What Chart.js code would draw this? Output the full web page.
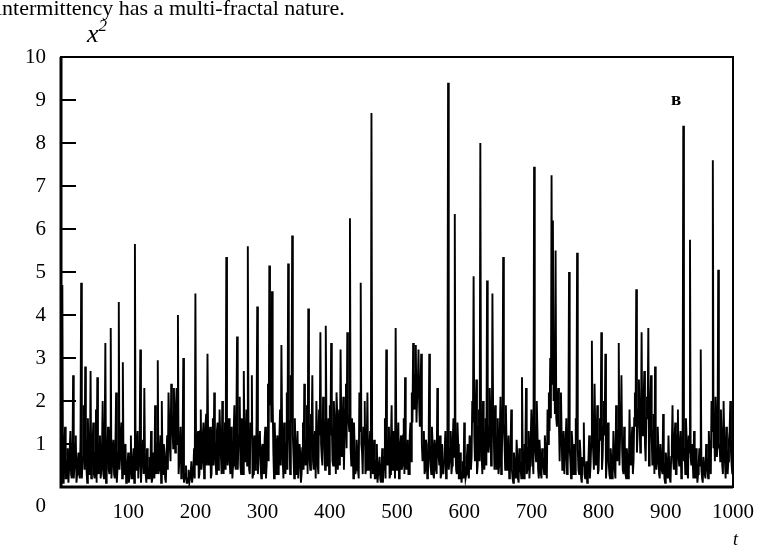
<!DOCTYPE html>
<html lang="en">
<head>
<meta charset="UTF-8">
<title>x^2 time series</title>
<script src="https://cdn.jsdelivr.net/npm/chart.js"></script>
<style>
  body { margin: 0; background: #fff; }
  #wrap { position: relative; width: 772px; height: 552px; overflow: hidden; background: #fff; }
  #caption { position: absolute; left: -4px; top: -3px; font: 22px/22px "Liberation Serif", serif; white-space: nowrap; color: #000; }
  .lbl { position: absolute; font-family: "Liberation Serif", serif; font-style: italic; color: #000; line-height: 1; }
</style>
</head>
<body>
<div id="wrap">
  <canvas id="myChart" width="772" height="552"></canvas>
  <div id="caption">intermittency has a multi-fractal nature.</div>
  <div class="lbl" style="left:87px;top:18px;font-size:26px;">x<sup style="font-size:17px;position:relative;top:-1px;">2</sup></div>
  <div class="lbl" style="left:733px;top:530px;font-size:18px;">t</div>
  <div style="position:absolute;left:671px;top:89px;font:bold 19px/19px 'Liberation Serif',serif;color:#000;">в</div>
</div>

<script>
// x^2 at even t = 0, 2, ..., 1000
const x2Even = [
  1.6,4.7,0.3,1.4,0.2,0.9,0.4,1.3,0.2,2.6,0.5,1.2,0.3,0.8,0.2,4.75,0.6,1.9,2.8,0.4,1.6,0.3,2.7,0.5,1.5,
  0.2,1.8,2.55,0.3,1.2,0.4,2.0,0.2,3.35,0.6,1.4,0.3,3.7,0.5,1.1,0.2,2.2,0.4,4.3,0.7,1.5,2.9,0.3,1.0,0.2,
  0.8,0.3,1.2,0.2,0.9,5.65,0.4,1.3,0.2,3.2,0.5,1.1,2.3,0.3,0.9,0.2,0.7,1.3,0.2,0.6,1.9,0.3,2.95,0.4,1.2,
  2.0,0.3,0.8,0.1,1.2,2.2,0.9,2.4,1.3,2.3,0.8,2.3,4.0,0.6,1.4,0.3,3.0,0.2,0.5,0.1,0.4,0.2,0.6,0.1,0.9,
  4.5,0.5,1.3,0.3,1.8,0.6,1.5,0.4,1.7,3.1,0.5,1.4,0.3,1.6,2.2,0.6,1.3,0.4,1.8,0.7,2.0,0.3,1.5,5.35,0.5,
  1.6,0.3,1.2,0.5,1.9,0.4,3.5,1.0,2.1,0.3,1.4,2.7,0.6,1.8,5.6,0.4,1.5,2.6,0.3,1.2,0.5,4.2,0.8,1.3,0.2,
  1.0,0.3,1.4,0.5,2.4,5.15,3.2,4.55,0.8,1.5,0.3,1.2,0.4,1.8,3.3,0.6,1.5,0.3,2.2,5.2,1.1,2.6,5.85,0.7,1.6,
  0.3,1.3,0.2,0.8,0.3,1.5,2.4,0.5,1.9,4.15,0.6,1.7,2.6,0.4,1.3,2.0,0.5,1.8,3.6,0.7,2.1,1.0,3.75,0.5,1.6,
  1.9,3.35,0.6,2.0,1.0,2.2,0.4,1.8,3.2,0.7,2.1,1.2,2.4,3.6,1.5,6.25,0.5,1.2,1.5,0.3,1.1,0.4,2.2,4.75,0.8,
  1.4,2.0,0.4,2.2,0.6,1.3,8.7,0.3,1.1,0.2,1.0,0.3,0.7,0.1,0.9,0.4,1.6,3.2,0.5,1.4,0.3,1.9,0.6,1.2,3.7,
  0.4,1.5,0.3,1.2,0.5,1.6,2.55,0.4,1.1,0.3,1.5,2.2,3.35,1.8,3.3,2.1,3.2,1.4,3.1,0.6,1.3,0.4,1.0,0.3,3.1,
  0.5,1.4,0.3,1.1,0.4,2.3,0.7,1.2,0.3,1.0,0.6,1.3,0.4,9.4,0.6,1.3,0.5,1.6,6.35,0.4,1.5,0.2,0.8,0.1,0.6,
  1.5,0.2,0.7,0.3,1.2,0.4,2.0,4.9,0.6,2.5,0.5,1.8,8.0,0.7,2.0,0.4,1.6,4.8,0.8,2.3,0.5,4.5,1.2,1.9,0.4,
  1.6,0.5,2.1,0.7,5.35,1.0,1.9,0.4,1.2,0.3,1.8,0.2,0.8,0.3,1.1,0.2,0.9,0.4,2.55,0.3,1.0,2.3,0.4,1.3,0.5,
  1.8,0.6,7.45,0.8,2.0,0.4,1.1,0.3,0.9,0.5,1.2,0.4,1.8,2.2,3.0,7.25,6.2,2.8,5.5,1.4,2.3,0.6,2.2,0.4,1.3,
  0.7,1.6,0.5,5.0,0.6,1.3,0.3,1.0,1.6,5.45,0.4,1.1,0.2,0.7,1.5,0.2,0.6,0.3,1.2,0.5,3.4,0.8,2.4,0.5,1.9,
  0.4,1.6,3.6,0.7,2.0,3.1,0.5,1.5,0.3,0.9,0.2,1.3,0.4,1.9,0.6,3.35,1.2,2.6,0.4,1.4,0.3,0.9,0.2,1.8,0.5,
  1.4,0.6,2.2,4.6,1.2,2.5,0.8,3.6,1.5,2.7,0.6,2.1,3.7,1.0,2.6,0.5,1.7,2.8,0.4,1.4,0.3,1.0,0.4,1.7,0.2,
  0.8,0.3,1.2,0.2,0.7,1.9,0.4,1.5,0.3,1.8,0.5,1.3,0.6,8.4,0.9,1.6,0.4,1.2,5.75,0.5,1.0,1.3,0.2,0.6,0.3,
  0.9,3.2,0.2,0.7,0.3,1.0,0.4,1.3,0.6,2.0,7.6,1.4,2.1,0.7,5.05,1.0,1.8,0.5,2.0,0.6,1.4,0.3,1.1,2.0,0.5,
  1.2
];
// x^2 at odd t = 1, 3, ..., 999
const x2Odd = [
  0.3,0.1,0.8,0.2,0.6,0.1,0.9,0.3,0.5,0.2,1.0,0.1,0.6,0.3,1.1,0.2,0.7,0.4,1.2,0.1,0.9,0.5,0.2,1.0,0.3,
  0.8,0.1,0.6,1.0,0.2,0.9,0.3,1.1,0.1,0.7,0.4,1.3,0.2,0.9,0.3,1.0,0.1,0.8,0.4,1.2,0.2,0.6,0.9,0.1,0.5,
  0.1,0.7,0.2,0.6,0.1,0.5,0.9,0.2,0.8,0.1,1.0,0.3,0.6,0.1,0.5,0.2,0.4,0.1,0.8,0.2,0.5,1.0,0.3,0.7,0.1,
  0.6,1.0,0.2,0.7,0.4,1.5,0.6,1.7,0.9,1.5,1.8,1.0,0.3,0.9,0.2,1.1,0.1,0.3,0.1,0.2,0.1,0.3,0.1,0.4,0.2,
  0.8,1.1,0.2,1.3,0.4,1.2,0.2,1.4,0.5,1.0,1.2,0.2,1.3,0.5,1.1,0.3,1.5,0.6,1.2,0.3,1.4,1.1,0.4,1.2,1.3,
  0.6,1.4,0.2,1.3,0.6,1.5,0.4,1.2,0.5,1.6,0.3,1.2,1.0,0.5,1.3,0.3,1.4,0.2,1.1,0.4,1.5,0.3,1.2,0.5,0.9,
  0.4,1.1,0.2,1.3,0.6,1.9,1.5,2.0,0.2,0.9,1.0,0.3,1.2,0.5,1.4,0.2,1.1,1.0,0.4,1.6,0.3,1.5,1.2,0.2,0.9,
  0.8,0.2,1.0,0.1,0.9,0.4,1.2,1.1,0.3,1.5,0.4,1.3,0.6,1.1,0.2,1.4,0.3,1.2,1.0,0.5,1.6,0.4,1.5,0.9,0.3,
  1.2,1.5,0.5,1.6,0.3,1.7,1.1,0.5,1.6,1.2,0.4,1.8,0.9,1.7,1.3,0.9,1.6,0.2,0.9,0.4,0.8,0.2,1.3,1.0,0.3,
  1.0,0.3,1.1,0.4,0.9,0.2,1.0,0.5,0.2,0.6,0.1,0.5,0.2,0.4,0.1,0.7,0.2,1.2,0.8,0.2,1.1,0.4,1.3,0.2,1.0,
  0.9,0.2,1.0,0.4,1.2,0.3,1.1,1.0,0.3,1.2,0.6,1.5,2.0,2.6,1.5,2.4,1.9,2.3,1.0,0.8,0.3,1.1,0.2,0.7,1.0,
  0.3,1.0,0.2,0.9,0.3,1.2,0.5,0.2,1.0,0.3,0.9,0.2,1.1,0.4,0.9,0.3,1.1,0.7,0.9,0.3,1.0,0.2,0.4,0.3,0.2,
  0.5,0.3,1.0,0.2,1.1,0.7,1.5,1.2,1.6,0.3,1.4,0.6,1.7,0.3,1.4,1.1,0.5,1.5,1.0,1.6,0.6,1.8,0.4,1.3,0.9,
  0.3,1.3,0.3,1.6,1.5,0.4,1.0,0.6,0.2,0.9,0.4,0.1,0.6,0.2,0.7,0.1,0.6,0.2,0.9,0.2,0.8,0.3,0.9,0.2,1.1,
  1.2,0.3,1.5,0.6,1.3,0.2,0.8,0.2,0.7,0.3,0.9,0.2,1.0,1.3,1.6,2.4,2.0,1.7,1.6,2.0,1.5,1.4,1.2,0.8,0.3,
  1.1,0.3,1.2,0.9,0.2,1.0,0.5,0.3,1.1,0.9,0.3,0.8,0.1,0.5,0.3,0.4,0.1,0.7,0.2,1.0,1.2,0.4,1.3,1.0,0.3,
  1.1,1.2,0.4,1.4,1.2,0.2,1.1,0.6,0.2,0.6,0.3,0.8,0.2,1.1,1.3,0.5,1.5,0.9,0.3,1.0,0.2,0.6,0.3,0.9,1.0,
  0.3,1.6,1.4,0.8,1.8,1.6,1.3,1.2,2.0,1.0,1.6,1.8,0.5,1.9,1.2,1.3,0.3,1.0,0.6,0.9,0.2,0.7,0.3,0.6,0.1,
  0.6,0.2,0.5,0.1,1.0,0.6,1.1,0.3,1.2,0.7,1.0,0.2,1.1,0.6,0.3,1.1,0.2,0.8,0.7,1.0,0.2,0.4,0.9,0.1,0.6,
  0.5,0.4,0.1,0.5,0.2,0.7,0.2,0.9,0.3,1.3,0.9,0.6,1.4,1.0,0.9,0.6,1.2,0.3,1.1,0.2,0.9,0.6,1.3,0.8,0.3
];
const yTickValues = [0, 1, 2, 3, 4, 5, 6, 7, 8, 9, 10];
const xTickLabels = [100, 200, 300, 400, 500, 600, 700, 800, 900, 1000];

const serif = '"Liberation Serif", "Times New Roman", serif';

// merge the two samplings into one series in time order
const series = [];
x2Even.forEach((v, i) => {
  series.push({ x: 2 * i, y: v });
  if (i < x2Odd.length) series.push({ x: 2 * i + 1, y: x2Odd[i] });
});

// box (heavier on left and bottom), inward ticks on the left axis, and the low "0"
const frame = {
  id: 'frame',
  afterDatasetsDraw(chart) {
    const { ctx, chartArea: a, scales: { y } } = chart;
    ctx.save();
    ctx.strokeStyle = '#000';
    ctx.lineWidth = 2;
    ctx.strokeRect(a.left, a.top, a.right - a.left, a.bottom - a.top);
    ctx.lineWidth = 3;
    ctx.beginPath();
    ctx.moveTo(a.left, a.top);
    ctx.lineTo(a.left, a.bottom);
    ctx.lineTo(a.right, a.bottom);
    ctx.stroke();
    ctx.lineWidth = 2;
    ctx.beginPath();
    yTickValues.forEach(v => {
      if (v > 0 && v < 10) {
        const py = Math.round(y.getPixelForValue(v));
        ctx.moveTo(a.left, py);
        ctx.lineTo(a.left + 15, py);
      }
    });
    ctx.stroke();
    ctx.fillStyle = '#000';
    ctx.font = '21px ' + serif;
    ctx.textAlign = 'right';
    ctx.textBaseline = 'middle';
    ctx.fillText('0', a.left - 15, a.bottom + 19);
    ctx.restore();
  }
};

let ctx = document.getElementById('myChart').getContext('2d');
let myChart = new Chart(ctx, {
  type: 'line',
  data: {
    datasets: [{
      data: series,
      borderColor: '#000',
      borderWidth: 1.9,
      pointRadius: 0,
      tension: 0,
      fill: false
    }]
  },
  options: {
    responsive: false,
    animation: false,
    layout: { padding: { left: 0, top: 57, right: 39, bottom: 0 } },
    plugins: { legend: { display: false }, tooltip: { enabled: false } },
    scales: {
      x: {
        type: 'linear',
        min: 0,
        max: 1000,
        afterBuildTicks: s => { s.ticks = xTickLabels.map(v => ({ value: v })); },
        afterFit: s => { s.height = 65; },
        grid: { display: false, drawTicks: false },
        border: { display: false },
        ticks: {
          color: '#000',
          font: { family: serif, size: 21 },
          padding: 13,
          maxRotation: 0,
          callback: v => String(v)
        }
      },
      y: {
        min: 0,
        max: 10,
        afterBuildTicks: s => { s.ticks = yTickValues.map(v => ({ value: v })); },
        afterFit: s => { s.width = 61; },
        grid: { display: false, drawTicks: false },
        border: { display: false },
        ticks: {
          color: '#000',
          font: { family: serif, size: 21 },
          padding: 15,
          callback: v => (v === 0 ? '' : String(v))
        }
      }
    }
  },
  plugins: [frame]
});
</script>
</body>
</html>
